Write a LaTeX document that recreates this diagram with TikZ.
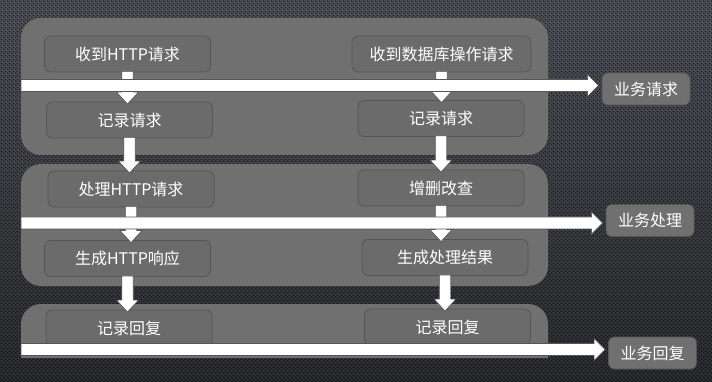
\documentclass[tikz,border=0pt]{standalone}
\usepackage{fontspec}
\setmainfont{Noto Sans CJK SC}
\usetikzlibrary{calc}
\usetikzlibrary{patterns}

\definecolor{bgtop}{HTML}{50535A}
\definecolor{bgbot}{HTML}{2C2E32}
\definecolor{panelgray}{HTML}{707070}
\definecolor{boxgray}{HTML}{6B6B6B}
\definecolor{boxline}{HTML}{555555}
\definecolor{edgegray}{HTML}{565656}

% dark dot texture of the backdrop
\pgfdeclarepatternformonly{bgdots}{\pgfpointorigin}{\pgfpoint{4pt}{4pt}}{\pgfpoint{4pt}{4pt}}{%
  \pgfpathcircle{\pgfpoint{1pt}{1pt}}{1pt}%
  \pgfpathcircle{\pgfpoint{3pt}{3pt}}{1pt}%
  \pgfusepath{fill}}

\tikzset{
  panel/.style={fill=panelgray, rounded corners=20pt, minimum width=527pt, inner sep=0pt},
  task/.style={draw=boxline, line width=0.8pt, fill=boxgray, rounded corners=6pt,
    minimum width=166pt, minimum height=36pt, inner sep=0pt, text=white,
    font=\fontsize{16}{18}\selectfont},
  outcome/.style={task, draw=edgegray, fill=panelgray, minimum width=88pt, minimum height=32pt},
  flow/.style={fill=white, draw=edgegray, line width=0.7pt},
  % fat arrow to the right, tip a little before the target
  flow right/.style={flow, to path={let \p1=(\tikztostart), \p2=(\tikztotarget) in
    (\x1,\y1+6pt) -- (\x2-14pt,\y1+6pt) -- (\x2-14pt,\y1+11pt) -- (\x2-3pt,\y1)
    -- (\x2-14pt,\y1-11pt) -- (\x2-14pt,\y1-6pt) -- (\x1,\y1-6pt) -- cycle}},
  % fat arrow downwards, tip just inside the target
  flow down/.style={flow, to path={let \p1=(\tikztostart), \p2=(\tikztotarget) in
    (\x1-5.75pt,\y1+1pt) -- (\x1-5.75pt,\y2+9.5pt) -- (\x1-11pt,\y2+9.5pt) -- (\x1,\y2-2.5pt)
    -- (\x1+11pt,\y2+9.5pt) -- (\x1+5.75pt,\y2+9.5pt) -- (\x1+5.75pt,\y1+1pt) -- cycle}},
}

\begin{document}
\begin{tikzpicture}[x=1pt,y=-1pt]
\useasboundingbox (0,0) rectangle (712,382);
\shade[top color=bgtop, bottom color=bgbot] (0,0) rectangle (712,382);
\fill[pattern=bgdots, pattern color=black, opacity=0.7] (0,0) rectangle (712,382);

% the three stages
\node[panel, minimum height=137pt] (p1) at (284.5,86.5) {};
\node[panel, minimum height=122pt] (p2) at (284.5,225) {};
\begin{scope}
\clip (0,0) rectangle (712,357);
\node[panel, minimum height=80pt] (p3) at (284.5,344) {};
\end{scope}

% web side
\node[task] (http1) at (127.5,54) {收到HTTP请求};
\node[task] (http2) at (129.5,120) {记录请求};
\node[task] (http3) at (131,189) {处理HTTP请求};
\node[task] (http4) at (127.5,258.5) {生成HTTP响应};
\node[task] (http5) at (129,328) {记录回复};

% database side
\node[task, minimum width=179pt] (db1) at (441.5,54) {收到数据库操作请求};
\node[task] (db2) at (441,118.5) {记录请求};
\node[task] (db3) at (441,188) {增删改查};
\node[task] (db4) at (445,257.5) {生成处理结果};
\node[task] (db5) at (447.5,327) {记录回复};

\draw[flow down] (http1.south) to (http2.north);
\draw[flow down] (http2.south) to (http3.north);
\draw[flow down] (http3.south) to (http4.north);
\draw[flow down] (http4.south) to (http5.north);
\draw[flow down] (db1.south) to (db2.north);
\draw[flow down] (db2.south) to (db3.north);
\draw[flow down] (db3.south) to (db4.north);
\draw[flow down] (db4.south) to (db5.north);

% stage names on the right
\node[outcome] (req) at (646,89) {业务请求};
\node[outcome] (proc) at (650,220.5) {业务处理};
\node[outcome] (resp) at (652.5,353) {业务回复};

\coordinate (in1) at (21,85.5);
\coordinate (in2) at (21,223);
\coordinate (in3) at (21,349.5);
\draw[flow right] (in1) to (req.west);
\draw[flow right] (in2) to (proc.west);
\draw[flow right] (in3) to (resp.west);
\end{tikzpicture}
\end{document}
